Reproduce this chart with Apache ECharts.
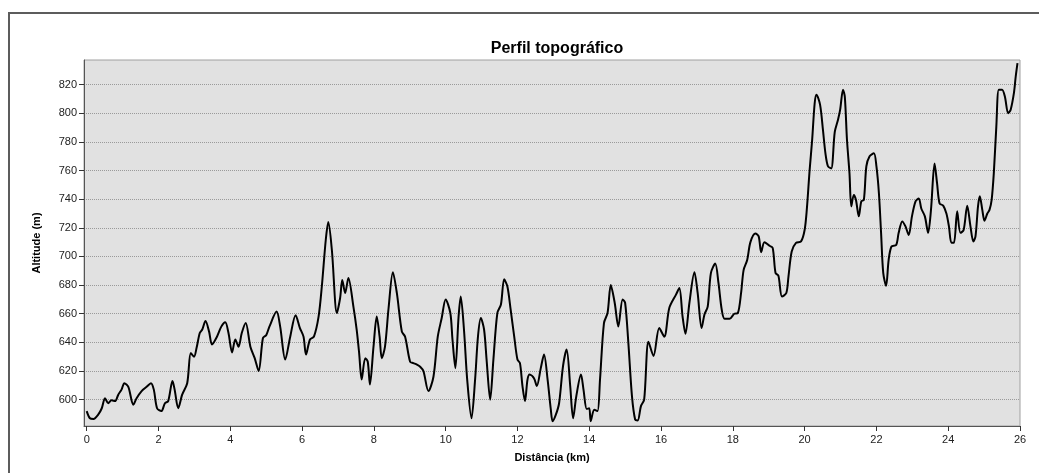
<!DOCTYPE html>
<html>
<head>
<meta charset="utf-8">
<title>Perfil topográfico</title>
<script src="https://cdn.jsdelivr.net/npm/echarts@6/dist/echarts.min.js"></script>
<style>
  html, body { margin: 0; padding: 0; background: #fff; }
  #main { width: 1039px; height: 473px; }
</style>
</head>
<body>
<div id="main"></div>
<script>
const distKm = [
  0, 0.09, 0.19, 0.32, 0.42, 0.51, 0.6, 0.69, 0.79, 0.88,
  0.97, 1.05, 1.16, 1.3, 1.39, 1.53, 1.67, 1.79, 1.87, 1.96,
  2.08, 2.18, 2.27, 2.39, 2.45, 2.55, 2.66, 2.8, 2.9, 2.99,
  3.06, 3.15, 3.22, 3.31, 3.41, 3.49, 3.61, 3.75, 3.86, 3.95,
  4.05, 4.14, 4.23, 4.32, 4.43, 4.56, 4.68, 4.79, 4.91, 5.0, 5.09,
  5.29, 5.39, 5.53, 5.67, 5.82, 5.94, 6.04, 6.11, 6.22, 6.33,
  6.46, 6.55, 6.66, 6.73, 6.83, 6.97, 7.06, 7.12, 7.2, 7.29,
  7.43, 7.52, 7.59, 7.66, 7.76, 7.83, 7.89, 7.99, 8.08, 8.16,
  8.22, 8.31, 8.41, 8.53, 8.64, 8.78, 8.87, 9.01, 9.1, 9.2,
  9.29, 9.38, 9.52, 9.66, 9.78, 9.89, 10.0, 10.13, 10.19, 10.27, 10.36,
  10.42, 10.51, 10.6, 10.72, 10.82, 10.9, 10.98, 11.07, 11.14, 11.24,
  11.33, 11.44, 11.54, 11.63, 11.72, 11.81, 11.91, 12.0, 12.07, 12.14,
  12.21, 12.28, 12.34, 12.46, 12.54, 12.65, 12.74, 12.84, 12.93, 12.98,
  13.07, 13.16, 13.27, 13.37, 13.47, 13.55, 13.64, 13.77, 13.84, 13.93,
  14.0, 14.04, 14.14, 14.23, 14.3, 14.41, 14.51, 14.6, 14.71, 14.81,
  14.93, 15.0, 15.09, 15.19, 15.28, 15.35, 15.44, 15.53,
  15.65, 15.79, 15.95, 16.09, 16.23, 16.42, 16.51, 16.6, 16.68, 16.79,
  16.93, 17.02, 17.13, 17.21, 17.3, 17.39, 17.51, 17.6, 17.69, 17.77,
  17.91, 18.04, 18.14, 18.23, 18.3, 18.4, 18.49, 18.63, 18.72, 18.79,
  18.88, 19.02, 19.11, 19.19, 19.27, 19.37, 19.49, 19.55, 19.64, 19.76,
  19.9, 20.0, 20.06, 20.14, 20.21, 20.28, 20.33, 20.43, 20.51, 20.58,
  20.65, 20.74,
  20.84, 20.93, 20.99, 21.07, 21.12, 21.18, 21.25, 21.3, 21.37, 21.43,
  21.51, 21.58, 21.65, 21.72, 21.81, 21.93, 22.0, 22.07, 22.13, 22.19,
  22.27, 22.34, 22.42, 22.55, 22.62, 22.72, 22.81, 22.9, 22.99, 23.09,
  23.18, 23.25, 23.35, 23.44, 23.52, 23.62, 23.69, 23.76, 23.86, 23.95,
  24.02, 24.09, 24.16, 24.25, 24.34, 24.43, 24.53, 24.62, 24.7, 24.76,
  24.83, 24.88, 24.95, 25.01, 25.09, 25.15, 25.21, 25.27, 25.34, 25.41,
  25.5, 25.58, 25.67, 25.74, 25.83, 25.88, 25.93
];

const altitudeM = [
  592, 587, 586.5, 589.5, 594, 601, 597.5, 599.5, 599, 603.5,
  607, 611.5, 609, 596.5, 601, 606, 609, 611.5, 607, 594,
  592, 597.5, 599, 613, 607, 594, 603.5, 611.5, 632.5, 630,
  636, 646.5, 649, 655, 647.5, 638.5, 643, 651, 654, 646.5,
  633, 642, 637, 646.5, 653.5, 637, 629, 620, 643, 645, 651,
  661.5, 651, 628, 644, 659, 650, 644, 631.5, 642, 644,
  658, 679, 711.5, 724, 704.5, 660.5, 671, 683.5, 674.5, 685,
  665, 649, 632.5, 614, 629, 626.5, 610.5, 637, 658, 644,
  629, 637, 664, 689, 674.5, 647.5, 644, 626.5, 625.5, 624.5,
  623, 620, 606, 616, 644, 657, 670, 660.5, 642, 622, 658,
  672, 649, 614, 587, 614, 644, 657, 649, 628, 600,
  628, 660.5, 666.5, 684, 679, 663, 644, 628, 625.5, 609.5,
  599, 614, 617.5, 615, 609.5, 622, 631.5, 614, 593, 585,
  589.5, 597.5, 623.5, 635, 609.5, 587, 602.5, 617.5, 607, 593.5,
  594, 585, 593, 592, 614, 653.5, 660.5, 680, 667.5, 651,
  670, 667.5, 639.5, 602.5, 586, 585.5, 595.5, 600,
  640.5, 630.5, 650, 644, 664, 673.5, 678, 658, 646, 667.5,
  689, 674.5, 650, 659.5, 665, 688.5, 695, 681.5, 663, 656.5,
  656.5, 660, 660.5, 674.5, 690.5, 697.5, 710, 716, 714, 703,
  710, 707.5, 706, 688.5, 686.5, 672, 674.5, 686, 703.5, 709.5,
  710.5, 718.5, 732.5, 760.5, 781.5, 807, 813, 806, 788.5, 772,
  763, 761.5,
  787, 795.5, 802.5, 816.5, 811.5, 781.5, 758, 735, 743, 739.5,
  728, 738.5, 739.5, 763, 770, 772, 763, 744, 716.5, 688.5,
  679.5, 697.5, 707, 708, 716.5, 724.5, 721, 715, 728, 738.5,
  740.5, 733.5, 728, 716.5, 732.5, 765, 751, 737, 735.5, 730,
  721, 709.5, 709.5, 731.5, 716.5, 718.5, 735.5, 721, 710.5, 714,
  735, 742, 732.5, 725, 730, 732.5, 739.5, 758, 790.5, 816.5,
  816.5, 811.5, 800, 802.5, 814, 825.5, 835
];

// marcas dos eixos
const xTicks = [0, 2, 4, 6, 8, 10, 12, 14, 16, 18, 20, 22, 24, 26];
const yTicks = [600, 620, 640, 660, 680, 700, 720, 740, 760, 780, 800, 820];

const font = "'Liberation Sans', Arial, sans-serif";

const chart = echarts.init(document.getElementById('main'));

const option = {
  backgroundColor: '#fff',
  animation: false,
  title: {
    text: 'Perfil topográfico',
    left: 552,
    top: 36,
    textAlign: 'center',
    textStyle: { fontFamily: font, fontSize: 16, fontWeight: 'bold', color: '#000' }
  },
  // moldura exterior
  graphic: [{
    type: 'rect',
    silent: true,
    shape: { x: 9, y: 13, width: 1100, height: 600 },
    style: { fill: 'none', stroke: '#5c5c5c', lineWidth: 2 }
  }],
  grid: {
    left: 84,
    right: 19,
    top: 60,
    bottom: 47,
    show: true,
    backgroundColor: '#e1e1e1',
    borderColor: '#a0a0a0',
    borderWidth: 1
  },
  xAxis: {
    type: 'value',
    min: -0.075,
    max: 26,
    name: 'Distância (km)',
    nameLocation: 'middle',
    nameGap: 26,
    nameTextStyle: { fontFamily: font, fontSize: 11, fontWeight: 'bold', color: '#000' },
    axisLine: { onZero: false, lineStyle: { color: '#555', width: 1 } },
    axisTick: { customValues: xTicks, length: 5, lineStyle: { color: '#333' } },
    axisLabel: { customValues: xTicks, margin: 8, fontFamily: font, fontSize: 11, color: '#222' },
    splitLine: { show: false }
  },
  yAxis: {
    type: 'value',
    min: 581.6,
    max: 837.2,
    name: 'Altitude (m)',
    nameLocation: 'middle',
    nameGap: 42,
    nameTextStyle: { fontFamily: font, fontSize: 11, fontWeight: 'bold', color: '#000' },
    axisLine: { show: true, onZero: false, lineStyle: { color: '#555', width: 1 } },
    axisTick: { show: true, customValues: yTicks, length: 5, lineStyle: { color: '#333' } },
    axisLabel: { customValues: yTicks, margin: 7, fontFamily: font, fontSize: 11, color: '#222' },
    splitLine: { show: true, lineStyle: { type: 'dotted', color: '#9a9a9a', width: 1 } }
  },
  series: [{
    type: 'line',
    data: distKm.map((d, i) => [d, altitudeM[i]]),
    showSymbol: false,
    smooth: 0.3,
    silent: true,
    lineStyle: { color: '#000', width: 2 }
  }]
};

chart.setOption(option);
</script>
</body>
</html>
